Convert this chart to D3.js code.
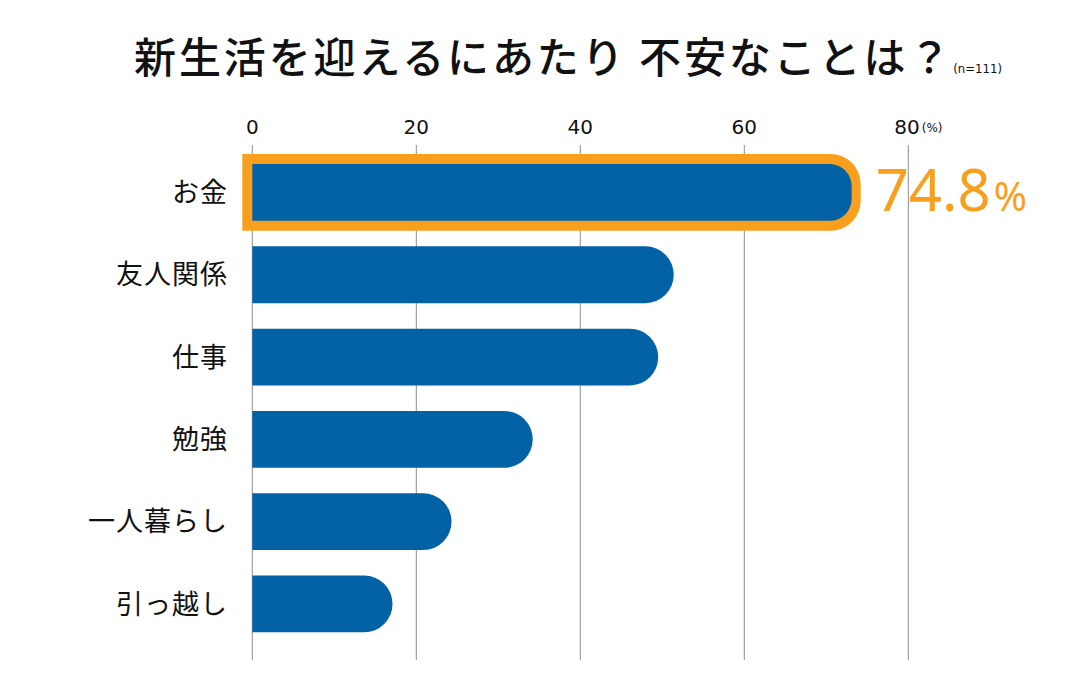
<!DOCTYPE html>
<html>
<head>
<meta charset="utf-8">
<script src="https://cdn.jsdelivr.net/npm/d3@7"></script>
<style>
  html, body { margin: 0; padding: 0; background: #fff; }
  svg { display: block; }
</style>
</head>
<body>
<div id="chart"></div>
<script>
// data (n=111)
var categories = ["お金", "友人関係", "仕事", "勉強", "一人暮らし", "引っ越し"];
var values = [74.8, 51.4, 49.5, 34.2, 24.3, 17.1];
var ticks = [0, 20, 40, 60, 80];
var highlight = "お金";

var W = 1080, H = 691;
var blue = "#0361a6", orange = "#f89f1e";

var svg = d3.select("#chart").append("svg")
  .attr("width", W)
  .attr("height", H)
  .attr("viewBox", `0 0 ${W} ${H}`);

var x = d3.scaleLinear().domain([0, 80]).range([252.3, 908.3]);
var y = d3.scaleBand()
  .domain(categories)
  .range([151.3, 645.1])
  .paddingInner(0.31)
  .paddingOuter(0.155);

// rect with only the right end rounded
function rightRound(x0, y0, w, h, r) {
  r = Math.min(r, h / 2, w);
  return `M${x0},${y0}H${x0 + w - r}A${r},${r} 0 0 1 ${x0 + w},${y0 + r}` +
    `V${y0 + h - r}A${r},${r} 0 0 1 ${x0 + w - r},${y0 + h}H${x0}Z`;
}

// title
var title = svg.append("text")
  .attr("x", 134)
  .attr("y", 73)
  .attr("font-family", "'Noto Sans CJK JP', sans-serif")
  .attr("font-size", 42)
  .attr("font-weight", 500)
  .attr("fill", "#111");
title.append("tspan")
  .attr("letter-spacing", 2.9)
  .text("新生活を迎えるにあたり 不安なことは？");
title.append("tspan")
  .attr("font-family", "'DejaVu Sans Condensed', 'DejaVu Sans', sans-serif")
  .attr("font-size", 13)
  .attr("font-weight", 400)
  .attr("dx", 0)
  .text("(n=111)");

// gridlines
svg.append("g").selectAll("line")
  .data(ticks)
  .enter().append("line")
  .attr("x1", d => x(d)).attr("x2", d => x(d))
  .attr("y1", 145).attr("y2", 660)
  .attr("stroke", "#8c8c8c")
  .attr("stroke-width", 1);

// top tick labels
var tl = svg.append("g").selectAll("text")
  .data(ticks)
  .enter().append("text")
  .attr("x", d => x(d))
  .attr("y", 134)
  .attr("text-anchor", "middle")
  .attr("font-family", "'DejaVu Sans', sans-serif")
  .attr("font-size", 20)
  .attr("fill", "#111")
  .text(d => d);
tl.filter(d => d === 80)
  .attr("text-anchor", "start")
  .attr("x", d => x(d) - 14)
  .append("tspan")
  .attr("font-size", 12)
  .attr("dx", 2)
  .attr("dy", -2)
  .text("(%)");

// bars
var rows = categories.map((c, i) => ({ cat: c, value: values[i] }));
var bars = svg.append("g").selectAll("g")
  .data(rows)
  .enter().append("g");

bars.filter(d => d.cat === highlight).append("path")
  .attr("d", d => rightRound(x(0) - 10, y(d.cat) - 10,
    x(d.value) - 5 - (x(0) - 10), y.bandwidth() + 20, 30))
  .attr("fill", orange);

bars.append("path")
  .attr("d", d => {
    var inset = d.cat === highlight ? 14 : 0;
    var r = d.cat === highlight ? 22 : y.bandwidth() / 2;
    return rightRound(x(0), y(d.cat), x(d.value) - inset - x(0), y.bandwidth(), r);
  })
  .attr("fill", blue);

// category labels
svg.append("g").selectAll("text")
  .data(categories)
  .enter().append("text")
  .attr("x", 228)
  .attr("y", d => y(d) + y.bandwidth() / 2)
  .attr("dy", "0.36em")
  .attr("text-anchor", "end")
  .attr("font-family", "'Noto Sans CJK JP', sans-serif")
  .attr("font-size", 27)
  .attr("letter-spacing", 1)
  .attr("fill", "#111")
  .text(d => d);

// value label for the highlighted bar
var hv = rows.filter(d => d.cat === highlight)[0];
var vl = svg.append("text")
  .attr("x", x(hv.value) + 10)
  .attr("y", y(hv.cat) + y.bandwidth() / 2 + 19)
  .attr("font-family", "'Noto Sans', sans-serif")
  .attr("fill", orange);
vl.append("tspan").attr("font-size", 58).text(d3.format(".1f")(hv.value));
vl.append("tspan").attr("font-size", 40).attr("dx", 3).text("%");
</script>
</body>
</html>
